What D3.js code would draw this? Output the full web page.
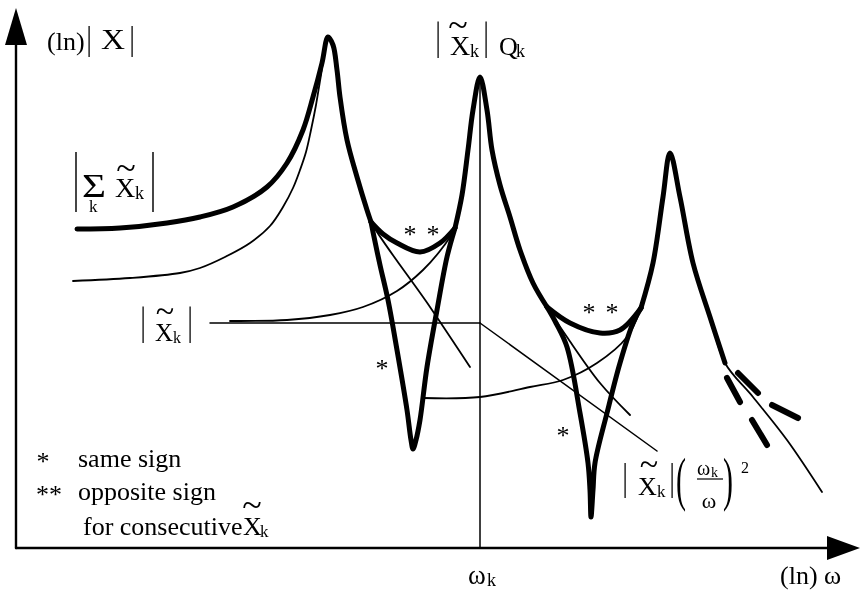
<!DOCTYPE html>
<html lang="en">
<head>
  <meta charset="utf-8">
  <title>Sum of resonances</title>
  <script src="https://cdn.jsdelivr.net/npm/d3@7"></script>
  <style>
    body { margin: 0; background: #fff; }
    #mainsvg { will-change: transform; }
  </style>
</head>
<body>
  <svg width="866" height="591" id="mainsvg"></svg>
  <script>
    // axis extents in (ln) units, and the resonance frequency omega_k
    const xMax = 84.4;
    const yMax = 54.0;
    const omegaK = 46.4;

    // |sum X_k| : thick curve, pieces between branch points
    const sumLeft = [[6.1, 31.9], [10.4, 32.0], [15.1, 32.5], [18.4, 33.1], [21.7, 34.1], [25.1, 36.1], [27.1, 38.5], [28.7, 41.8], [29.7, 45.1], [30.6, 48.5], [31.2, 51.1], [31.7, 50.3], [32.1, 47.8], [32.4, 45.1], [33.1, 40.8], [34.1, 37.1], [35.1, 33.8], [35.5, 32.6]];
    const sumOpposite1 = [[35.5, 32.6], [36.7, 31.4], [38.1, 30.5], [40.4, 29.6], [42.4, 30.5], [43.9, 32.0]];
    const sumSame1 = [[35.5, 32.6], [35.7, 31.6], [36.4, 28.3], [37.2, 24.8], [38.1, 19.8], [39.1, 13.8], [39.5, 10.8], [39.7, 9.9], [40.0, 10.8], [40.4, 12.8], [41.1, 18.1], [42.1, 23.8], [43.1, 29.1], [43.9, 32.0]];
    const sumMid = [[43.9, 32.0], [44.6, 35.3], [45.2, 39.8], [45.7, 43.8], [46.4, 47.1], [47.1, 43.8], [47.6, 39.8], [48.4, 36.3], [49.4, 33.1], [50.4, 29.8], [51.7, 26.5], [53.1, 24.1]];
    const sumOpposite2 = [[53.1, 24.1], [55.4, 22.5], [58.4, 21.5], [60.4, 21.8], [62.5, 24.0]];
    const sumSame2 = [[53.1, 24.1], [54.0, 22.5], [55.1, 20.1], [56.4, 13.5], [57.2, 8.5], [57.4, 5.8], [57.5, 3.1], [57.7, 5.8], [57.9, 8.5], [59.1, 13.5], [60.4, 18.5], [61.7, 22.5], [62.5, 24.0]];
    const sumRight = [[62.5, 24.0], [63.7, 28.5], [64.7, 35.1], [65.4, 39.5], [66.4, 35.1], [67.7, 28.5], [69.4, 23.1], [70.9, 18.5]];
    const sumTail = [[[71.1, 17.0], [72.4, 14.6]], [[72.2, 17.5], [74.2, 15.5]], [[75.6, 14.3], [78.2, 13.0]], [[73.6, 12.8], [75.1, 10.3]]];

    // single modes |X_k| : thin curves
    const mode1 = [[5.7, 26.7], [11.4, 27.0], [16.4, 27.5], [18.4, 28.0], [20.9, 29.1], [23.4, 30.5], [25.4, 32.2], [26.7, 34.1], [27.7, 36.0], [28.4, 37.8], [29.0, 39.6], [29.5, 41.8], [30.0, 44.3], [30.5, 47.3], [31.2, 51.1], [31.7, 50.3], [32.1, 47.8], [32.4, 45.1], [33.1, 40.8], [34.1, 37.1], [35.1, 33.8], [35.5, 32.6], [41.4, 24.1], [45.4, 18.1]];
    const modeK = [[21.4, 22.7], [27.1, 22.8], [31.4, 23.3], [34.7, 24.1], [38.1, 25.7], [40.7, 27.8], [42.7, 30.1], [43.9, 32.0], [44.6, 35.3], [45.2, 39.8], [45.7, 43.8], [46.4, 47.1], [47.1, 43.8], [47.6, 39.8], [48.4, 36.3], [49.4, 33.1], [50.4, 29.8], [51.7, 26.5], [53.1, 24.1], [55.1, 21.1], [58.4, 16.5], [61.4, 13.3]];
    const mode3 = [[40.7, 15.0], [46.4, 15.1], [51.4, 16.1], [54.7, 16.8], [58.1, 18.5], [61.1, 21.1], [62.5, 24.0], [63.7, 28.5], [64.7, 35.1], [65.4, 39.5], [66.4, 35.1], [67.7, 28.5], [69.4, 23.1], [70.9, 18.5], [73.7, 15.1], [77.1, 10.8], [80.6, 5.6]];

    // asymptotes of mode k: static level, then (omega_k/omega)^2 fall-off
    const asymFlat = [[19.4, 22.5], [omegaK, 22.5]];
    const asymSlope = [[omegaK, 22.5], [64.1, 9.7]];

    // sign markers
    const sameSignMarks = [[36.6, 18.4], [54.7, 11.7]];
    const oppositeSignMarks = [[39.4, 31.8], [41.7, 31.8], [57.3, 24.0], [59.6, 24.0]];

    const svg = d3.select('#mainsvg');
    const xScale = d3.scaleLinear().domain([0, xMax]).range([16, 860]);
    const yScale = d3.scaleLinear().domain([0, yMax]).range([548, 8]);

    const line = d3.line()
      .x(d => xScale(d[0]))
      .y(d => yScale(d[1]))
      .curve(d3.curveCatmullRom.alpha(0.5));
    const straight = d3.line()
      .x(d => xScale(d[0]))
      .y(d => yScale(d[1]));

    const g = svg.append('g')
      .attr('id', 'maingroup')
      .attr('font-family', "'Liberation Serif', 'Times New Roman', 'DejaVu Serif', serif");

    const drawPath = function (data, width, gen) {
      g.append('path')
        .attr('d', (gen || line)(data))
        .attr('fill', 'none')
        .attr('stroke', '#000')
        .attr('stroke-width', width)
        .attr('stroke-linecap', 'round')
        .attr('stroke-linejoin', 'round');
    };

    // asymptotes and omega_k marker
    drawPath(asymFlat, 1.5, straight);
    drawPath(asymSlope, 1.5, straight);
    drawPath([[omegaK, 0], [omegaK, 47.1]], 1.5, straight);

    // single modes
    [mode1, modeK, mode3].forEach(d => drawPath(d, 1.8));

    // sum
    [sumLeft, sumOpposite1, sumSame1, sumMid, sumOpposite2, sumSame2, sumRight].forEach(d => drawPath(d, 5));
    sumTail.forEach(d => drawPath(d, 6, straight));

    // axes
    const axisW = 2.4;
    drawPath([[0, 0], [0, 50.3]], axisW, straight);
    drawPath([[0, 0], [81.1, 0]], axisW, straight);
    g.append('path')
      .attr('d', `M${xScale(0)},${yScale(yMax)} L${xScale(0) - 11},${yScale(50.3)} L${xScale(0) + 11},${yScale(50.3)} Z`)
      .attr('fill', '#000');
    g.append('path')
      .attr('d', `M${xScale(xMax)},${yScale(0)} L${xScale(81.1)},${yScale(0) - 12} L${xScale(81.1)},${yScale(0) + 12} Z`)
      .attr('fill', '#000');

    // text helpers
    const txt = function (x, y, s, size, anchor) {
      return g.append('text')
        .attr('x', x).attr('y', y)
        .attr('font-size', size)
        .attr('text-anchor', anchor || 'start')
        .attr('fill', '#000')
        .text(s);
    };
    // tall delimiter: a normal-size glyph stretched vertically over top..bottom
    const delim = function (ch, x, top, bottom, size) {
      size = size || 26;
      const k = (bottom - top) / (0.9 * size);
      g.append('text')
        .attr('transform', `translate(${x},${bottom}) scale(1,${k})`)
        .attr('y', -0.215 * size)
        .attr('font-size', size)
        .attr('text-anchor', 'middle')
        .attr('fill', '#000')
        .text(ch);
    };
    const tilde = function (cx, cy, size) {
      txt(cx, cy + 0.27 * size, '~', size, 'middle');
    };

    // asterisks
    sameSignMarks.concat(oppositeSignMarks).forEach(d => {
      txt(xScale(d[0]), yScale(d[1]) + 13, '*', 26, 'middle');
    });

    // (ln) |X|
    txt(47, 50, '(ln)', 26);
    delim('|', 89, 27, 57);
    txt(101, 49, 'X', 29).attr('textLength', 24).attr('lengthAdjust', 'spacingAndGlyphs');
    delim('|', 132, 27, 57);

    // |X_k| Q_k
    delim('|', 438, 22, 58);
    tilde(458, 27, 36);
    txt(450, 55, 'X', 28);
    txt(470, 57, 'k', 18);
    delim('|', 486, 22, 58);
    txt(499, 55, 'Q', 26);
    txt(516, 57, 'k', 18);

    // |sum_k X_k|
    delim('|', 76, 153, 212, 30);
    txt(82, 197, 'Σ', 33).attr('textLength', 24).attr('lengthAdjust', 'spacingAndGlyphs');
    txt(89, 212, 'k', 17);
    tilde(126, 170, 36);
    txt(115, 197, 'X', 28);
    txt(135, 199, 'k', 18);
    delim('|', 153, 153, 212, 30);

    // |X_k|
    delim('|', 143, 307, 343);
    tilde(165, 313, 34);
    txt(155, 341, 'X', 25);
    txt(173, 343, 'k', 16);
    delim('|', 190, 307, 343);

    // |X_k| (omega_k / omega)^2
    delim('|', 625, 463, 498);
    tilde(649, 466, 34);
    txt(638, 495, 'X', 26);
    txt(657, 497, 'k', 17);
    delim('|', 672, 463, 498);
    delim('(', 681, 458, 512, 30);
    txt(697, 475, 'ω', 20);
    txt(711, 477, 'k', 14);
    g.append('line')
      .attr('x1', 697).attr('x2', 723).attr('y1', 479).attr('y2', 479)
      .attr('stroke', '#000').attr('stroke-width', 1.2);
    txt(709, 508, 'ω', 22, 'middle');
    delim(')', 728, 458, 512, 30);
    txt(741, 473, '2', 16);

    // legend
    txt(43, 470, '*', 26, 'middle');
    txt(78, 467, 'same sign', 26);
    txt(49, 503, '**', 26, 'middle');
    txt(78, 500, 'opposite sign', 26);
    txt(83, 535, 'for consecutive', 26);
    tilde(252, 507, 36);
    txt(243, 535, 'X', 26);
    txt(260, 537, 'k', 17);

    // x axis labels
    txt(xScale(omegaK) - 12, 584, 'ω', 27);
    txt(xScale(omegaK) + 7, 586, 'k', 18);
    txt(780, 584, '(ln) ω', 26);
  </script>
</body>
</html>
